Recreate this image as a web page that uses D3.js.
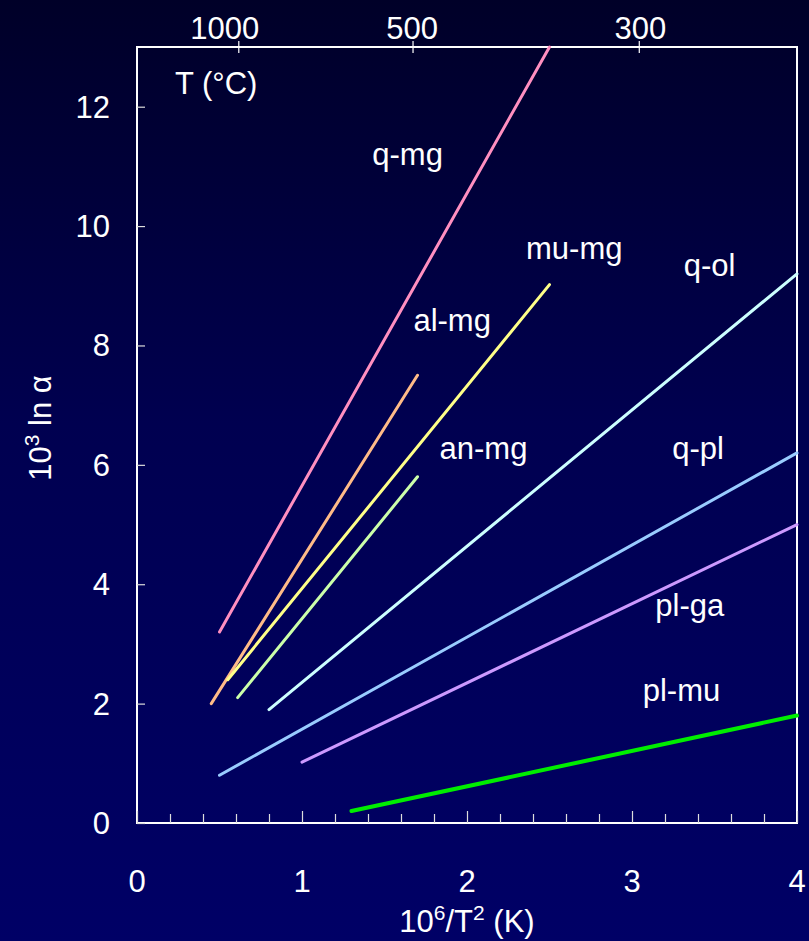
<!DOCTYPE html>
<html><head><meta charset="utf-8">
<script src="https://cdn.jsdelivr.net/npm/d3@7"></script>
<style>
html,body{margin:0;padding:0;background:#000040;}
svg{display:block;font-family:"Liberation Sans",Arial,sans-serif;}
</style></head>
<body>
<svg id="chart" width="809" height="941"></svg>
<script>
// ---- data ----
const pairs   = ["q-mg","al-mg","mu-mg","an-mg","q-ol","q-pl","pl-ga","pl-mu"];
const xStart  = [0.50, 0.45, 0.55, 0.61, 0.80, 0.50, 1.00, 1.30];
const yStart  = [3.20, 2.00, 2.40, 2.10, 1.90, 0.80, 1.02, 0.20];
const xEnd    = [2.50, 1.70, 2.50, 1.70, 4.00, 4.00, 4.00, 4.00];
const yEnd    = [13.0, 7.50, 9.02, 5.80, 9.20, 6.20, 5.00, 1.80];
const xTicks  = [0, 1, 2, 3, 4];
const yTicks  = [0, 2, 4, 6, 8, 10, 12];
const tempTicksC = [1000, 500, 300];

// ---- styles / layout ----
const colors = ["#ff8fc0","#ffbb88","#ffff88","#ccffaa","#ccffff","#99ccff","#cc99ff","#00ee00"];
const widths = [3,3,3,3,3,3,3,4];
const labelAt = {
  "q-mg":[1.64,11.2], "mu-mg":[2.65,9.64], "q-ol":[3.47,9.35], "al-mg":[1.91,8.43],
  "an-mg":[2.10,6.28], "q-pl":[3.40,6.28], "pl-ga":[3.35,3.65], "pl-mu":[3.30,2.23]
};
const tempLabelShift = {1000:-14, 500:-1, 300:1};
const W = 809, H = 941;
const m = {left:137, right:797, top:47, bottom:823};
const FS = 31;

const svg = d3.select("#chart");
const defs = svg.append("defs");
const g = defs.append("linearGradient").attr("id","bg").attr("x1",0).attr("y1",0).attr("x2",0).attr("y2",1);
g.append("stop").attr("offset","0%").attr("stop-color","#000028");
g.append("stop").attr("offset","45%").attr("stop-color","#000050");
g.append("stop").attr("offset","100%").attr("stop-color","#000066");
svg.append("rect").attr("width",W).attr("height",H).attr("fill","url(#bg)");

const x = d3.scaleLinear().domain([0,4]).range([m.left,m.right]);
const y = d3.scaleLinear().domain([0,13]).range([m.bottom,m.top]);

// frame
svg.append("rect").attr("x",m.left).attr("y",m.top)
  .attr("width",m.right-m.left).attr("height",m.bottom-m.top)
  .attr("fill","none").attr("stroke","#ffffff").attr("stroke-width",2);

// bottom axis: minor ticks every 0.2, major at integers, inward
const minor = d3.range(1,20).map(i=>i*0.2).filter(v=>Math.abs(v-Math.round(v))>1e-6);
const bAx = svg.append("g").attr("transform",`translate(0,${m.bottom})`)
  .call(d3.axisBottom(x).tickValues(xTicks).tickSize(-12).tickFormat(""));
bAx.select(".domain").remove();
bAx.selectAll("line").attr("stroke","#dddddd").attr("stroke-width",1.2);
const bMin = svg.append("g").attr("transform",`translate(0,${m.bottom})`)
  .call(d3.axisBottom(x).tickValues(minor).tickSize(-9).tickFormat(""));
bMin.select(".domain").remove();
bMin.selectAll("line").attr("stroke","#dddddd").attr("stroke-width",1.2);
svg.append("g").selectAll("text").data(xTicks).join("text")
  .attr("x",d=>x(d)).attr("y",m.bottom+69).attr("text-anchor","middle")
  .attr("fill","#fff").attr("font-size",FS).text(d=>d);

// left axis ticks inward
const lAx = svg.append("g").attr("transform",`translate(${m.left},0)`)
  .call(d3.axisLeft(y).tickValues(yTicks).tickSize(-8).tickFormat(""));
lAx.select(".domain").remove();
lAx.selectAll("line").attr("stroke","#dddddd").attr("stroke-width",1.2);
svg.append("g").selectAll("text").data(yTicks).join("text")
  .attr("x",m.left-27).attr("y",d=>y(d)+11).attr("text-anchor","end")
  .attr("fill","#fff").attr("font-size",FS).text(d=>d);

// top temperature axis
const tPos = c => 1e6/Math.pow(c+273.15,2);
const tAx = svg.append("g").attr("transform",`translate(0,${m.top})`);
tAx.selectAll("line").data(tempTicksC).join("line")
  .attr("x1",d=>x(tPos(d))).attr("x2",d=>x(tPos(d)))
  .attr("y1",-6).attr("y2",6).attr("stroke","#ffffff").attr("stroke-width",1.2);
tAx.selectAll("text").data(tempTicksC).join("text")
  .attr("x",d=>x(tPos(d))+tempLabelShift[d]).attr("y",-8).attr("text-anchor","middle")
  .attr("fill","#fff").attr("font-size",FS).text(d=>d);

svg.append("text").attr("x",175).attr("y",94).attr("fill","#fff")
  .attr("font-size",FS).text("T (°C)");

// axis titles
const xt = svg.append("text").attr("x",467).attr("y",932).attr("text-anchor","middle")
  .attr("fill","#fff").attr("font-size",FS);
xt.append("tspan").text("10");
xt.append("tspan").attr("dy",-12).attr("font-size",21).text("6");
xt.append("tspan").attr("dy",12).text("/T");
xt.append("tspan").attr("dy",-12).attr("font-size",21).text("2");
xt.append("tspan").attr("dy",12).text(" (K)");

const yt = svg.append("text").attr("transform","translate(51,428) rotate(-90)")
  .attr("text-anchor","middle").attr("fill","#fff").attr("font-size",FS);
yt.append("tspan").text("10");
yt.append("tspan").attr("dy",-12).attr("font-size",21).text("3");
yt.append("tspan").attr("dy",12).text(" ln α");

// lines
const lines = pairs.map((p,i)=>({name:p, pts:[[xStart[i],yStart[i]],[xEnd[i],yEnd[i]]], i}));
const lineGen = d3.line().x(d=>x(d[0])).y(d=>y(d[1]));
svg.append("g").selectAll("path").data(lines).join("path")
  .attr("d",d=>lineGen(d.pts)).attr("fill","none")
  .attr("stroke",d=>colors[d.i]).attr("stroke-width",d=>widths[d.i])
  .attr("stroke-linecap","round");

// labels
svg.append("g").selectAll("text").data(pairs).join("text")
  .attr("x",d=>x(labelAt[d][0])).attr("y",d=>y(labelAt[d][1])+11)
  .attr("text-anchor","middle").attr("fill","#fff").attr("font-size",FS).text(d=>d);
</script>
</body></html>
